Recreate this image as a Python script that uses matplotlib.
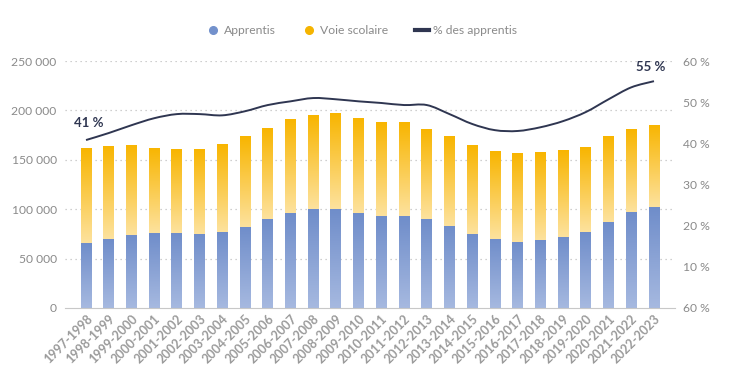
import numpy as np
import matplotlib.pyplot as plt
from matplotlib.lines import Line2D
from matplotlib.path import Path
from matplotlib.patches import PathPatch
from matplotlib.colors import LinearSegmentedColormap

# Data
years = ['1997-1998', '1998-1999', '1999-2000', '2000-2001', '2001-2002', '2002-2003',
         '2003-2004', '2004-2005', '2005-2006', '2006-2007', '2007-2008', '2008-2009',
         '2009-2010', '2010-2011', '2011-2012', '2012-2013', '2013-2014', '2014-2015',
         '2015-2016', '2016-2017', '2017-2018', '2018-2019', '2019-2020', '2020-2021',
         '2021-2022', '2022-2023']
apprentis = [65800, 69800, 73900, 75900, 76000, 75000, 77000, 82000, 90000, 96000,
             100000, 100000, 96000, 93000, 93000, 90000, 83000, 75000, 70000, 67000,
             69000, 72000, 77000, 87000, 97000, 102000]
total = [161900, 164000, 165000, 162000, 161000, 161000, 166000, 174000, 182000, 191000,
         195000, 197000, 192000, 188000, 188000, 181000, 174000, 165000, 159000, 157000,
         158000, 160000, 163000, 174000, 181000, 185000]
voie_scolaire = [t - a for t, a in zip(total, apprentis)]
part_apprentis = [40.8, 42.5, 44.4, 46.1, 47.1, 47.1, 46.8, 47.8, 49.3, 50.2,
                  51.0, 50.7, 50.2, 49.8, 49.3, 49.3, 47.1, 44.7, 43.2, 43.0,
                  43.9, 45.4, 47.6, 50.7, 53.6, 55.1]

left_ticks = [0, 50000, 100000, 150000, 200000, 250000]
left_labels = ['0', '50 000', '100 000', '150 000', '200 000', '250 000']
right_ticks = [0, 10, 20, 30, 40, 50, 60]
right_labels = ['60 %', '10 %', '20 %', '30 %', '40 %', '50 %', '60 %']

plt.rcParams['font.family'] = ['Lato', 'DejaVu Sans']

grey_txt = '#8a8a8a'
navy = '#2f3651'
blue_cmap = LinearSegmentedColormap.from_list('b', ['#a6b9e0', '#6f8dca'])
yel_cmap = LinearSegmentedColormap.from_list('y', ['#fde29e', '#f8b500'])

fig = plt.figure(figsize=(7.48, 3.81), dpi=100)
ax = fig.add_axes([65 / 748, 1 - 308 / 381, 610 / 748, 247 / 381])
ax2 = ax.twinx()

x = np.arange(len(years))
w = 0.48
grad = np.linspace(0, 1, 256).reshape(-1, 1)


def gradient_bar(bar, cmap):
    x0, y0 = bar.get_x(), bar.get_y()
    bw, bh = bar.get_width(), bar.get_height()
    im = ax.imshow(grad, cmap=cmap, aspect='auto', origin='lower',
                   extent=(x0, x0 + bw, y0, y0 + bh), zorder=2)
    im.set_clip_path(bar)
    bar.set_alpha(0)


bars_a = ax.bar(x, apprentis, w, color='#7391cc', zorder=2)
bars_v = ax.bar(x, voie_scolaire, w, bottom=apprentis, color='#f5b400', zorder=2)
for b in bars_a:
    gradient_bar(b, blue_cmap)
for b in bars_v:
    gradient_bar(b, yel_cmap)

ax.set_xlim(-0.925, len(years) - 1 + 0.925)
ax.set_ylim(0, 250000)
ax.set_yticks(left_ticks)
ax.set_yticklabels(left_labels)
ax.set_xticks(x)
ax.set_xticklabels(years, rotation=45, ha='right', rotation_mode='anchor',
                   fontsize=9, fontweight='bold', color='#9a9a9a')
ax.tick_params(axis='y', length=0, labelsize=8.7, labelcolor=grey_txt, pad=6)
ax.tick_params(axis='x', length=0, pad=3)
for t in left_ticks[1:]:
    ax.axhline(t, color='#c0c0c0', linestyle=(0, (1, 3)), linewidth=0.9, zorder=1)
for s in ['top', 'right', 'left']:
    ax.spines[s].set_visible(False)
ax.spines['bottom'].set_color('#c8c8c8')

# smooth line through the points (Catmull-Rom drawn as Bezier segments)
px = np.array(x, dtype=float)
py = np.array(part_apprentis)
verts = [(px[0], py[0])]
codes = [Path.MOVETO]
for i in range(len(px) - 1):
    p0 = (px[max(i - 1, 0)], py[max(i - 1, 0)])
    p1 = (px[i], py[i])
    p2 = (px[i + 1], py[i + 1])
    p3 = (px[min(i + 2, len(px) - 1)], py[min(i + 2, len(px) - 1)])
    c1 = (p1[0] + (p2[0] - p0[0]) / 6, p1[1] + (p2[1] - p0[1]) / 6)
    c2 = (p2[0] - (p3[0] - p1[0]) / 6, p2[1] - (p3[1] - p1[1]) / 6)
    verts += [c1, c2, p2]
    codes += [Path.CURVE4] * 3
ax2.add_patch(PathPatch(Path(verts, codes), facecolor='none', edgecolor=navy,
                        linewidth=1.4, zorder=3))
ax2.set_ylim(0, 60)
ax2.set_yticks(right_ticks)
ax2.set_yticklabels(right_labels)
ax2.tick_params(axis='y', length=0, labelsize=8.7, labelcolor=grey_txt, pad=6)
for s in ax2.spines.values():
    s.set_visible(False)

ax2.text(x[0] - 0.55, part_apprentis[0] + 3.2, '41 %', fontsize=9.5, fontweight='bold',
         color=navy, ha='left')
ax2.text(x[-1] + 0.5, part_apprentis[-1] + 2.4, '55 %', fontsize=9.5, fontweight='bold',
         color=navy, ha='right')

handles = [
    Line2D([], [], marker='o', linestyle='none', color='#7391cc', markersize=5.5),
    Line2D([], [], marker='o', linestyle='none', color='#f5b400', markersize=5.5),
    Line2D([], [], color=navy, linewidth=3),
]
fig.legend(handles, ['Apprentis', 'Voie scolaire', '% des apprentis'],
           loc='center', bbox_to_anchor=(0.483, 1 - 31 / 381), ncol=3, frameon=False,
           fontsize=8.7, labelcolor=grey_txt, handlelength=1.2, handletextpad=0.3,
           columnspacing=2.2)

fig.savefig('out.png', dpi=100)
